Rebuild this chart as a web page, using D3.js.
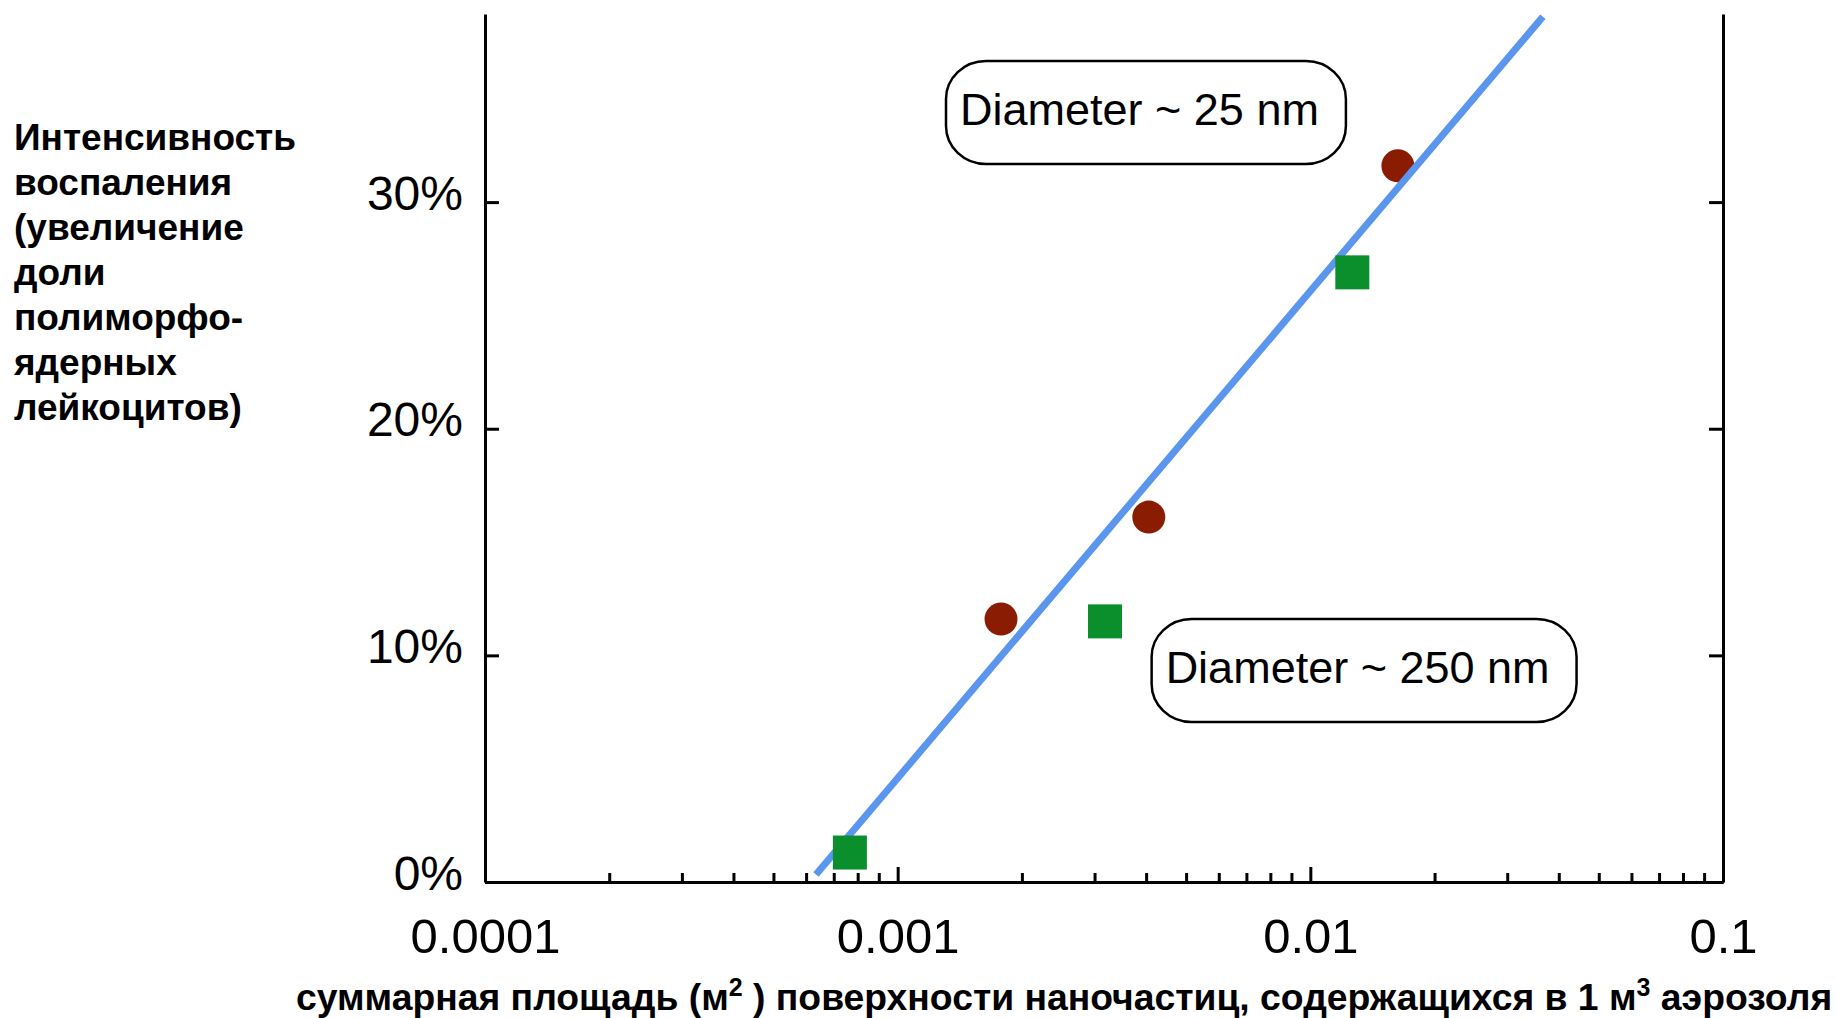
<!DOCTYPE html>
<html>
<head>
<meta charset="utf-8">
<script src="https://cdn.jsdelivr.net/npm/d3@7"></script>
<style>
  body { margin: 0; background: #fff; }
  text { font-family: "Liberation Sans", Arial, sans-serif; }
</style>
</head>
<body>
<div id="chart"></div>
<script>
// values
const circleX = [0.00178, 0.00406, 0.0163];      // Diameter ~ 25 nm
const circleY = [11.6, 16.1, 31.6];
const squareX = [0.000766, 0.00318, 0.01264];    // Diameter ~ 250 nm
const squareY = [1.3, 11.5, 26.9];
const fitX = [0.000634, 0.0366];
const fitY = [0.33, 38.18];

const xTickValues = [0.0001, 0.001, 0.01, 0.1];
const xTickLabels = ["0.0001", "0.001", "0.01", "0.1"];
const yTickValues = [0, 10, 20, 30];
const yTickLabels = ["0%", "10%", "20%", "30%"];

const noteText = ["Diameter ~ 25 nm", "Diameter ~ 250 nm"];
const noteX = [0.001416, 0.004460];
const noteY = [33.4, 8.78];

const yTitle = ["Интенсивность", "воспаления", "(увеличение", "доли", "полиморфо-", "ядерных", "лейкоцитов)"];

const width = 1836, height = 1018;
const plot = { left: 485, right: 1723, top: 14, bottom: 882 };

const svg = d3.select("#chart")
    .append("svg")
    .attr("width", width)
    .attr("height", height);

// scales
const xScale = d3.scaleLog().domain([1e-4, 1e-1]).range([plot.left, plot.right]);
const yScale = d3.scaleLinear().domain([0, 38.3]).range([plot.bottom, plot.top]);

// axes
function styleAxis(g) {
    g.select(".domain").attr("stroke", "#000").attr("stroke-width", 3);
    g.selectAll(".tick line").attr("stroke", "#000").attr("stroke-width", 3);
}

// minor x ticks
const minorX = xScale.ticks().filter(v => !xTickValues.includes(v));
svg.append("g")
    .attr("transform", `translate(0,${plot.bottom})`)
    .call(d3.axisBottom(xScale).tickValues(minorX).tickSizeInner(-9).tickSizeOuter(0).tickFormat(""))
    .call(styleAxis);

// major x ticks with labels
svg.append("g")
    .attr("transform", `translate(0,${plot.bottom})`)
    .call(d3.axisBottom(xScale).tickValues(xTickValues).tickSizeInner(-15).tickSizeOuter(0)
        .tickFormat((d, i) => xTickLabels[i]))
    .call(styleAxis)
    .call(g => g.selectAll(".tick text")
        .attr("y", 71).attr("dy", 0)
        .attr("font-size", 49).attr("fill", "#000"));

// left axis
svg.append("g")
    .attr("transform", `translate(${plot.left},0)`)
    .call(d3.axisLeft(yScale).tickValues(yTickValues).tickSizeInner(-14).tickSizeOuter(0)
        .tickPadding(22).tickFormat((d, i) => yTickLabels[i]))
    .call(styleAxis)
    .call(g => g.selectAll(".tick text")
        .attr("x", -22).attr("y", 7).attr("dy", 0)
        .attr("font-size", 48).attr("fill", "#000"));

// right axis
svg.append("g")
    .attr("transform", `translate(${plot.right},0)`)
    .call(d3.axisRight(yScale).tickValues(yTickValues).tickSizeInner(-14).tickSizeOuter(0).tickFormat(""))
    .call(styleAxis);

// circles (25 nm)
svg.append("g")
    .selectAll("circle")
    .data(circleX.map((x, i) => ({ x, y: circleY[i] })))
    .join("circle")
    .attr("cx", d => xScale(d.x))
    .attr("cy", d => yScale(d.y))
    .attr("r", 16.5)
    .attr("fill", "#8a1c02");

// fit line
const line = d3.line().x(d => xScale(d.x)).y(d => yScale(d.y));
svg.append("path")
    .datum(fitX.map((x, i) => ({ x, y: fitY[i] })))
    .attr("d", line)
    .attr("fill", "none")
    .attr("stroke", "#5a95ee")
    .attr("stroke-width", 7);

// squares (250 nm)
const side = 34;
svg.append("g")
    .selectAll("rect")
    .data(squareX.map((x, i) => ({ x, y: squareY[i] })))
    .join("rect")
    .attr("x", d => xScale(d.x) - side / 2)
    .attr("y", d => yScale(d.y) - side / 2)
    .attr("width", side)
    .attr("height", side)
    .attr("fill", "#0a8f2c");

// notes in rounded boxes
noteText.forEach((t, i) => {
    const g = svg.append("g");
    const box = g.append("rect");
    const txt = g.append("text")
        .attr("x", xScale(noteX[i]))
        .attr("y", yScale(noteY[i]))
        .attr("font-size", 45)
        .attr("fill", "#000")
        .text(t);
    const w = txt.node().getComputedTextLength();
    box.attr("x", xScale(noteX[i]) - 14)
        .attr("y", yScale(noteY[i]) - 64)
        .attr("width", w + 41)
        .attr("height", 103)
        .attr("rx", 40)
        .attr("ry", 38)
        .attr("fill", "#fff")
        .attr("stroke", "#000")
        .attr("stroke-width", 2.5);
});

// y title
svg.append("text")
    .attr("font-size", 37)
    .attr("font-weight", "bold")
    .attr("fill", "#000")
    .selectAll("tspan")
    .data(yTitle)
    .join("tspan")
    .attr("x", 14)
    .attr("y", (d, i) => 150 + i * 45)
    .text(d => d);

// x title
const xt = svg.append("text")
    .attr("x", 296)
    .attr("y", 1010)
    .attr("font-size", 37.3)
    .attr("font-weight", "bold")
    .attr("fill", "#000");
xt.append("tspan").text("суммарная площадь (м");
xt.append("tspan").attr("font-size", 25).attr("dy", -14).text("2");
xt.append("tspan").attr("dy", 14).text(" ) поверхности наночастиц, содержащихся в 1 м");
xt.append("tspan").attr("font-size", 25).attr("dy", -14).text("3");
xt.append("tspan").attr("dy", 14).text(" аэрозоля");
</script>
</body>
</html>
